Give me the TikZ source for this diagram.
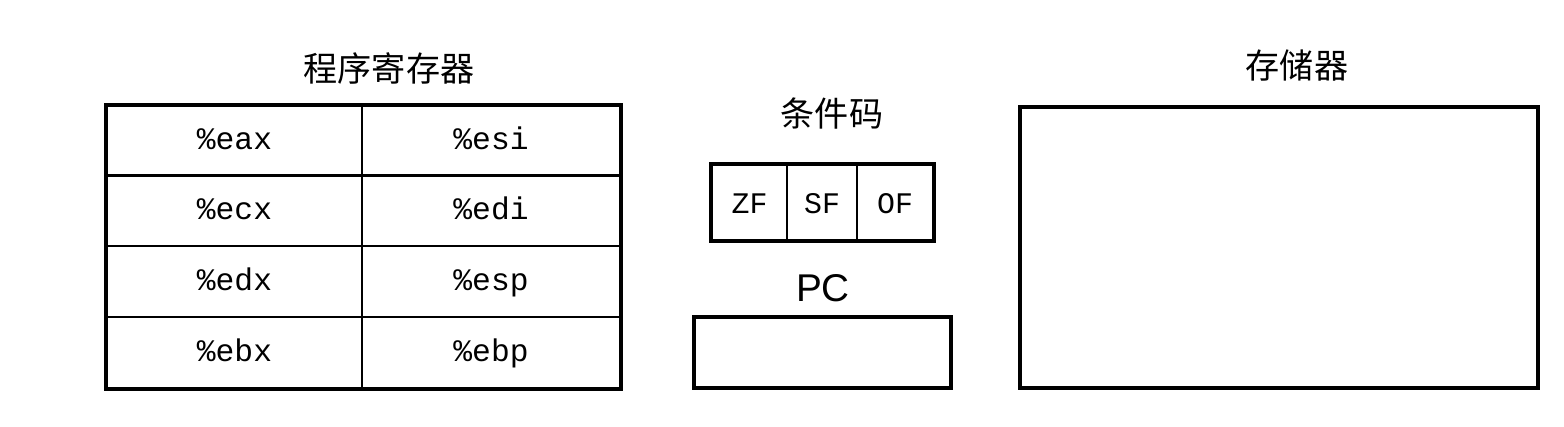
\documentclass[tikz,border=0pt]{standalone}
\usepackage{fontspec}
\newfontfamily\cjk{Noto Sans CJK SC}
\newfontfamily\regfont{Liberation Mono}
\newfontfamily\pcfont{Liberation Sans}
\tikzset{
  regcell/.style={draw, line width=0.45pt, minimum width=2.56cm, minimum height=0.71cm, inner sep=0pt, text height=1.6ex, text depth=0.45ex, font=\regfont\fontsize{8.9pt}{10pt}\selectfont},
  flagcell/.style={draw, line width=0.45pt, minimum height=0.75cm, inner sep=0pt, text height=1.6ex, text depth=0.2ex, font=\regfont\fontsize{8.5pt}{10pt}\selectfont},
  heading/.style={font=\cjk\fontsize{9.7pt}{11pt}\selectfont, inner sep=0pt},
  outline/.style={line width=1.2pt}
}
\begin{document}
\begin{tikzpicture}[x=0.01cm, y=-0.01cm]
    \useasboundingbox (0, 0) rectangle (1564, 426);

    % Program registers
    \node[heading] (regtitle) at (389, 68) {程序寄存器};
    \node[regcell, minimum width=2.55cm] (eax) at (234.5, 141) {\%eax};
    \node[regcell, minimum width=2.58cm] (esi) at (491, 141) {\%esi};
    \node[regcell, minimum width=2.55cm] (ecx) at (234.5, 210.5) {\%ecx};
    \node[regcell, minimum width=2.58cm] (edi) at (491, 210.5) {\%edi};
    \node[regcell, minimum width=2.55cm] (edx) at (234.5, 281.5) {\%edx};
    \node[regcell, minimum width=2.58cm] (esp) at (491, 281.5) {\%esp};
    \node[regcell, minimum width=2.55cm] (ebx) at (234.5, 353) {\%ebx};
    \node[regcell, minimum width=2.58cm] (ebp) at (491, 353) {\%ebp};
    \draw[outline] (eax.north west) rectangle (ebp.south east);

    % Condition codes
    \node[heading] (cctitle) at (832, 113) {条件码};
    \node[flagcell, minimum width=0.75cm] (zf) at (749.5, 202.5) {ZF};
    \node[flagcell, minimum width=0.70cm] (sf) at (822, 202.5) {SF};
    \node[flagcell, minimum width=0.76cm] (of) at (895, 202.5) {OF};
    \draw[outline] (zf.north west) rectangle (of.south east);

    % Program counter
    \node[font=\pcfont\fontsize{11pt}{12pt}\selectfont, inner sep=0pt] (pctitle) at (823, 288) {PC};
    \node[draw, outline, minimum width=2.57cm, minimum height=0.71cm] (pc) at (822.5, 352.5) {};

    % Memory
    \node[heading] (memtitle) at (1297, 65) {存储器};
    \node[draw, outline, minimum width=5.18cm, minimum height=2.81cm] (mem) at (1279, 247.5) {};
\end{tikzpicture}
\end{document}
